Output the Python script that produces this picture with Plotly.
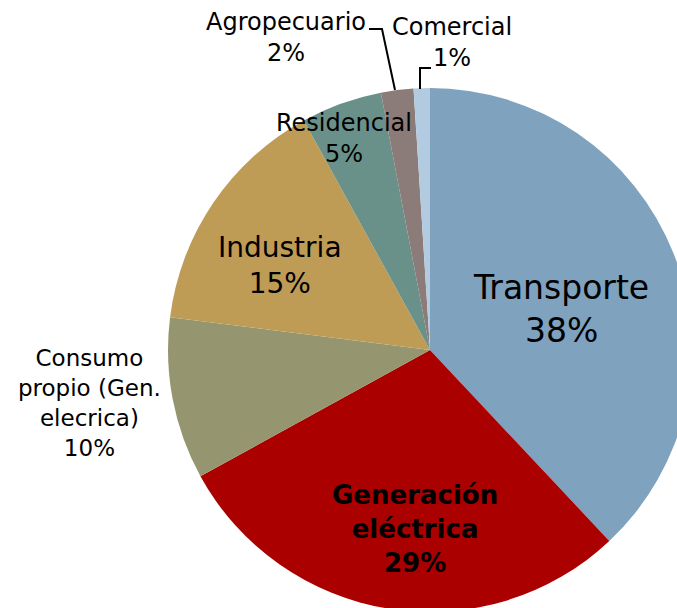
import plotly.graph_objects as go

# Consumo de energía por sector (%)
sectors = [
    "Transporte",
    "Generación eléctrica",
    "Consumo propio (Gen. elecrica)",
    "Industria",
    "Residencial",
    "Agropecuario",
    "Comercial",
]
shares = [38, 29, 10, 15, 5, 2, 1]
colors = ["#7FA2BF", "#AA0000", "#959670", "#BE9C55", "#6A9189", "#8B7B79", "#B3CBE0"]

# label text as shown on the chart
label_text = [
    "Transporte<br>38%",
    "<b>Generación<br>eléctrica<br>29%</b>",
    "Consumo<br>propio (Gen.<br>elecrica)<br>10%",
    "Industria<br>15%",
    "Residencial<br>5%",
    "Agropecuario<br>2%",
    "Comercial<br>1%",
]
label_size = [33, 26, 23, 28, 24, 24, 24]
label_px = [(561, 309), (415, 529), (90, 403), (280, 265), (344, 138), (286, 38), (452, 43)]

W, H = 700, 620
FONT = "DejaVu Sans"


def px(x, y):
    return x / W, 1 - y / H


fig = go.Figure(
    go.Pie(
        labels=sectors,
        values=shares,
        sort=False,
        direction="clockwise",
        rotation=0,
        marker=dict(colors=colors, line=dict(width=0)),
        textinfo="none",
        hoverinfo="label+percent",
        showlegend=False,
        domain=dict(x=[168 / W, 692 / W], y=[1 - 612 / H, 1 - 88 / H]),
    )
)

for text, size, (x, y) in zip(label_text, label_size, label_px):
    ax, ay = px(x, y)
    fig.add_annotation(
        x=ax, y=ay, xref="paper", yref="paper",
        text=text, showarrow=False,
        font=dict(family=FONT, size=size, color="#000000"),
        xanchor="center", yanchor="middle", align="center",
    )

# leader lines for the small slices
def path(points):
    pts = [px(x, y) for x, y in points]
    return "M " + " L ".join(f"{a:.5f},{b:.5f}" for a, b in pts)


for pts in ([(369, 29), (382, 29), (395, 90)], [(420, 89), (420, 68), (431, 68)]):
    fig.add_shape(type="path", xref="paper", yref="paper", path=path(pts),
                  line=dict(color="#000000", width=2))

fig.update_layout(
    width=W,
    height=H,
    margin=dict(l=0, r=0, t=0, b=0),
    paper_bgcolor="#FFFFFF",
    plot_bgcolor="#FFFFFF",
    font=dict(family=FONT),
)

fig.write_html(
    "out.html",
    config={"displayModeBar": False},
    post_script="document.body.style.margin='0';"
    "document.body.style.overflow='hidden';"
    "document.documentElement.style.overflow='hidden';",
)
